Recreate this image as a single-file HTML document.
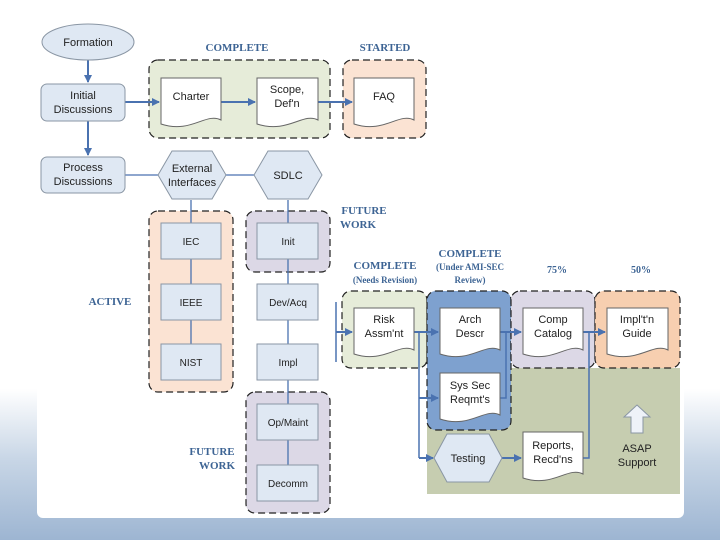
<!DOCTYPE html>
<html><head><meta charset="utf-8"><style>
html,body{margin:0;padding:0;width:720px;height:540px;overflow:hidden;background:#fff}
svg{display:block}
.n{font-family:"Liberation Sans",sans-serif;font-size:11px;fill:#222;text-anchor:middle}
.l{font-family:"Liberation Serif",serif;font-weight:bold;font-size:11px;fill:#3d6494;text-anchor:middle}
.s{font-family:"Liberation Serif",serif;font-weight:bold;font-size:9px;fill:#3d6494;text-anchor:middle}
.box{fill:#dfe8f3;stroke:#8a96a4;stroke-width:1}
.doc{fill:#fff;stroke:#666;stroke-width:1}
.g{stroke:#222;stroke-width:1.2;stroke-dasharray:7 4}
.c{stroke:#4a72b0;stroke-width:2;fill:none}
</style></head><body>
<svg width="720" height="540" viewBox="0 0 720 540">
<defs>
<linearGradient id="bg" x1="0" y1="0" x2="0" y2="1">
<stop offset="0" stop-color="#fff"/><stop offset="0.72" stop-color="#fff"/><stop offset="0.85" stop-color="#c8d6e6"/><stop offset="1" stop-color="#9db5d2"/>
</linearGradient>
<marker id="a" markerWidth="8" markerHeight="8" refX="7" refY="4" orient="auto" markerUnits="userSpaceOnUse"><path d="M0,0L8,4L0,8Z" fill="#4a72b0"/></marker>
</defs>
<rect width="720" height="540" fill="url(#bg)"/>
<rect x="37" y="0" width="647" height="518" rx="6" fill="#fff"/>

<!-- right background -->
<rect x="427" y="368" width="253" height="126" fill="#c6cdb0"/>

<!-- groups -->
<rect class="g" x="149" y="60" width="181" height="78" rx="9" fill="#e6ecd9"/>
<rect class="g" x="343" y="60" width="83" height="78" rx="9" fill="#fbe3d3"/>
<rect class="g" x="149" y="211" width="84" height="181" rx="9" fill="#fbe3d3"/>
<rect class="g" x="246" y="211" width="84" height="61" rx="9" fill="#dcd8e6"/>
<rect class="g" x="246" y="392" width="84" height="121" rx="9" fill="#dcd8e6"/>
<rect class="g" x="342" y="291" width="85" height="77" rx="9" fill="#e6ecd9"/>
<rect class="g" x="427" y="291" width="84" height="139" rx="9" fill="#7ea1cf"/>
<rect class="g" x="511" y="291" width="84" height="77" rx="9" fill="#dcd8e6"/>
<rect class="g" x="595" y="291" width="85" height="77" rx="9" fill="#f7cfb0"/>

<!-- connectors -->
<line class="c" x1="88" y1="60" x2="88" y2="82" marker-end="url(#a)"/>
<line class="c" x1="88" y1="121" x2="88" y2="155" marker-end="url(#a)"/>
<line class="c" x1="125" y1="102" x2="159" y2="102" marker-end="url(#a)"/>
<line class="c" x1="221" y1="102" x2="255" y2="102" marker-end="url(#a)"/>
<line class="c" x1="318" y1="102" x2="352" y2="102" marker-end="url(#a)"/>
<line class="c" style="stroke-width:1.3" x1="125" y1="175" x2="158" y2="175"/>
<line class="c" style="stroke-width:1.3" x1="226" y1="175" x2="254" y2="175"/>
<line class="c" style="stroke-width:1.3" x1="191" y1="200" x2="191" y2="380"/>
<line class="c" style="stroke-width:1.3" x1="288" y1="200" x2="288" y2="501"/>
<line class="c" style="stroke-width:1.5" x1="336" y1="302" x2="336" y2="362"/>
<line class="c" x1="336" y1="332" x2="352" y2="332" marker-end="url(#a)"/>
<line class="c" x1="414" y1="332" x2="438" y2="332" marker-end="url(#a)"/>
<path class="c" style="stroke-width:1.5" d="M419 332V458"/>
<line class="c" x1="419" y1="398" x2="438" y2="398" marker-end="url(#a)"/>
<line class="c" x1="419" y1="458" x2="433" y2="458" marker-end="url(#a)"/>
<path class="c" style="stroke-width:1.5" d="M500 398H506V332"/>
<line class="c" x1="500" y1="332" x2="521" y2="332" marker-end="url(#a)"/>
<line class="c" x1="502" y1="458" x2="521" y2="458" marker-end="url(#a)"/>
<path class="c" style="stroke-width:1.5" d="M583 458H589V332"/>
<line class="c" x1="583" y1="332" x2="605" y2="332" marker-end="url(#a)"/>

<!-- nodes -->
<ellipse class="box" cx="88" cy="42" rx="46" ry="18"/>
<text class="n" x="88" y="46">Formation</text>
<rect class="box" x="41" y="84" width="84" height="37" rx="6"/>
<text class="n" x="83" y="99">Initial</text><text class="n" x="83" y="113">Discussions</text>
<rect class="box" x="41" y="157" width="84" height="36" rx="6"/>
<text class="n" x="83" y="171">Process</text><text class="n" x="83" y="185">Discussions</text>

<path class="doc" d="M161 78H221V120C206 112 191 134 161 124Z"/><text class="n" x="191" y="100">Charter</text>
<path class="doc" d="M257 78H318V120C303 112 288 134 257 124Z"/><text class="n" x="287" y="93">Scope,</text><text class="n" x="287" y="107">Def'n</text>
<path class="doc" d="M354 78H414V120C399 112 384 134 354 124Z"/><text class="n" x="384" y="100">FAQ</text>

<path class="box" d="M158 175L172 151H212L226 175L212 199H172Z"/>
<text class="n" x="192" y="172">External</text><text class="n" x="192" y="186">Interfaces</text>
<path class="box" d="M254 175L268 151H308L322 175L308 199H268Z"/>
<text class="n" x="288" y="179">SDLC</text>

<rect class="box" x="161" y="223" width="60" height="36"/><text class="n" x="191" y="245" style="font-size:10px">IEC</text>
<rect class="box" x="161" y="284" width="60" height="36"/><text class="n" x="191" y="306" style="font-size:10px">IEEE</text>
<rect class="box" x="161" y="344" width="60" height="36"/><text class="n" x="191" y="366" style="font-size:10px">NIST</text>
<rect class="box" x="257" y="223" width="61" height="36"/><text class="n" x="288" y="245" style="font-size:10px">Init</text>
<rect class="box" x="257" y="284" width="61" height="36"/><text class="n" x="288" y="306" style="font-size:10px">Dev/Acq</text>
<rect class="box" x="257" y="344" width="61" height="36"/><text class="n" x="288" y="366" style="font-size:10px">Impl</text>
<rect class="box" x="257" y="404" width="61" height="36"/><text class="n" x="288" y="426" style="font-size:10px">Op/Maint</text>
<rect class="box" x="257" y="465" width="61" height="36"/><text class="n" x="288" y="487" style="font-size:10px">Decomm</text>

<path class="doc" d="M354 308H414V350C399 342 384 364 354 354Z"/><text class="n" x="384" y="323">Risk</text><text class="n" x="384" y="337">Assm'nt</text>
<path class="doc" d="M440 308H500V350C485 342 470 364 440 354Z"/><text class="n" x="470" y="323">Arch</text><text class="n" x="470" y="337">Descr</text>
<path class="doc" d="M440 373H500V415C485 407 470 429 440 419Z"/><text class="n" x="470" y="389">Sys Sec</text><text class="n" x="470" y="403">Reqmt's</text>
<path class="doc" d="M523 308H583V350C568 342 553 364 523 354Z"/><text class="n" x="553" y="323">Comp</text><text class="n" x="553" y="337">Catalog</text>
<path class="doc" d="M607 308H668V350C653 342 638 364 607 354Z"/><text class="n" x="637" y="323">Impl't'n</text><text class="n" x="637" y="337">Guide</text>
<path class="doc" d="M523 432H583V474C568 466 553 488 523 478Z"/><text class="n" x="553" y="449">Reports,</text><text class="n" x="553" y="463">Recd'ns</text>
<path class="box" d="M434 458L447 434H489L502 458L489 482H447Z"/><text class="n" x="468" y="462">Testing</text>

<path d="M637 405L650 417H643V433H631V417H624Z" fill="#eef2f8" stroke="#8a96a4"/>
<text class="n" x="637" y="452">ASAP</text><text class="n" x="637" y="466">Support</text>

<!-- labels -->
<text class="l" x="237" y="51">COMPLETE</text>
<text class="l" x="385" y="51">STARTED</text>
<text class="l" x="364" y="214">FUTURE</text><text class="l" x="358" y="228">WORK</text>
<text class="l" x="110" y="305">ACTIVE</text>
<text class="l" x="212" y="455">FUTURE</text><text class="l" x="217" y="469">WORK</text>
<text class="l" x="385" y="269">COMPLETE</text><text class="s" x="385" y="283">(Needs Revision)</text>
<text class="l" x="470" y="257">COMPLETE</text><text class="s" x="470" y="270">(Under AMI-SEC</text><text class="s" x="470" y="283">Review)</text>
<text class="s" x="557" y="273" style="font-size:10px">75%</text>
<text class="s" x="641" y="273" style="font-size:10px">50%</text>
</svg>
</body></html>
